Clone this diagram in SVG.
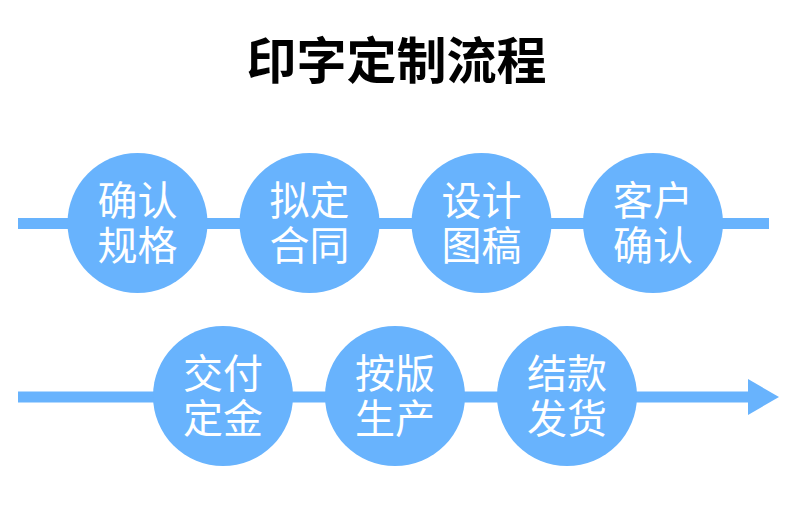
<svg xmlns="http://www.w3.org/2000/svg" width="790" height="508" viewBox="0 0 790 508">
<style>
.t{font-family:"Noto Sans CJK SC","Noto Sans",sans-serif;font-size:40px;fill:#fff;text-anchor:middle}
.title{font-family:"Noto Sans CJK SC","Noto Sans",sans-serif;font-size:50px;font-weight:700;fill:#000;text-anchor:middle}
.c{fill:#68b3fd}
.ln{stroke:#68b3fd;stroke-width:11;fill:none}
</style>
<rect width="790" height="508" fill="#fff"/>
<text class="title" x="396.5" y="79">印字定制流程</text>
<g id="connectors">
<line class="ln" x1="18" y1="223.5" x2="769" y2="223.5"/>
<line class="ln" x1="18" y1="397" x2="750" y2="397"/>
<polygon points="748,379 779,397 748,415" fill="#68b3fd"/>
</g>
<g id="n1"><circle class="c" cx="137.5" cy="223" r="70"/><text class="t" x="137.5" y="215">确认</text><text class="t" x="137.5" y="260">规格</text></g>
<g id="n2"><circle class="c" cx="309.5" cy="223" r="70"/><text class="t" x="309.5" y="215">拟定</text><text class="t" x="309.5" y="260">合同</text></g>
<g id="n3"><circle class="c" cx="481.5" cy="223" r="70"/><text class="t" x="481.5" y="215">设计</text><text class="t" x="481.5" y="260">图稿</text></g>
<g id="n4"><circle class="c" cx="653" cy="223" r="70"/><text class="t" x="653" y="215">客户</text><text class="t" x="653" y="260">确认</text></g>
<g id="n5"><circle class="c" cx="223" cy="396" r="70"/><text class="t" x="223" y="388">交付</text><text class="t" x="223" y="433">定金</text></g>
<g id="n6"><circle class="c" cx="395" cy="396" r="70"/><text class="t" x="395" y="388">按版</text><text class="t" x="395" y="433">生产</text></g>
<g id="n7"><circle class="c" cx="567" cy="396" r="70"/><text class="t" x="567" y="388">结款</text><text class="t" x="567" y="433">发货</text></g>
</svg>
